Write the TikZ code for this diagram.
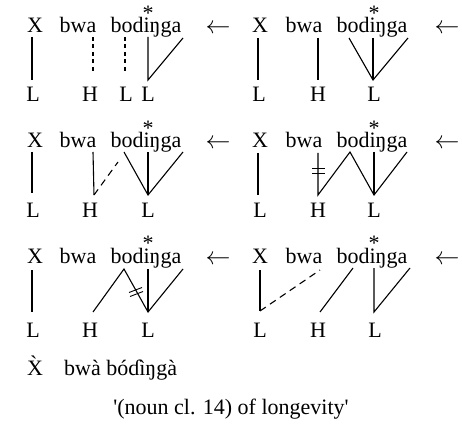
\documentclass[tikz,border=0pt]{standalone}
\usepackage{fontspec}
\setmainfont{Liberation Serif}[Ligatures=TeXOff]
\usetikzlibrary{calc}
\begin{document}
\begin{tikzpicture}[x=1pt,y=-1pt,
  txt/.style={anchor=base, inner sep=0pt, font=\fontsize{22}{26}\selectfont},
  arw/.style={anchor=base, inner sep=0pt, font=\fontsize{25}{28}\selectfont},
  assoc/.style={line width=1.1pt},
  delink/.style={assoc, dash pattern=on 4pt off 3.5pt},
  spread/.style={assoc, dash pattern=on 7pt off 5pt},
  cut/.style={line width=0.9pt}]
\useasboundingbox (0,0) rectangle (462,427);

% ---------- derivation steps: words on top, tones below ----------
% row 1, left
\node[txt] (x1)   at (35,33)  {X};
\node[txt] (bwa1) at (78,33)  {bwa};
\node[txt] (bod1) at (146,33) {bodiŋga};
\node[txt] (as1)  at (148,21) {*};
\node[arw] (ar1)  at (218,34) {$\leftarrow$};
\node[txt] (t1a)  at (33,102)  {L};
\node[txt] (t1b)  at (90,102)  {H};
\node[txt] (t1c)  at (126,102) {L};
\node[txt] (t1d)  at (148,102) {L};
\coordinate (p1x) at (32,37);  \coordinate (q1x) at (32,80);
\coordinate (p1w) at (93,37);  \coordinate (q1w) at (93,73);
\coordinate (p1o) at (125,37); \coordinate (q1o) at (125,73);
\coordinate (p1i) at (148,37); \coordinate (q1i) at (148,80);
\coordinate (p1a) at (183,38);
\draw[assoc]  (p1x) -- (q1x);
\draw[delink] (p1w) -- (q1w);
\draw[delink] (p1o) -- (q1o);
\draw[assoc]  (p1i) -- (q1i) -- (p1a);

% row 1, right
\node[txt] (x2)   at (260,33) {X};
\node[txt] (bwa2) at (304,33) {bwa};
\node[txt] (bod2) at (372,33) {bodiŋga};
\node[txt] (as2)  at (374,21) {*};
\node[arw] (ar2)  at (447,34) {$\leftarrow$};
\node[txt] (t2a)  at (259,102) {L};
\node[txt] (t2b)  at (318,102) {H};
\node[txt] (t2c)  at (374,102) {L};
\coordinate (p2x) at (258,38); \coordinate (q2x) at (258,80);
\coordinate (p2w) at (318,38); \coordinate (q2w) at (318,80);
\coordinate (p2o) at (349,38);
\coordinate (p2i) at (373,38); \coordinate (q2i) at (373,80);
\coordinate (p2a) at (408,38);
\draw[assoc] (p2x) -- (q2x);
\draw[assoc] (p2w) -- (q2w);
\draw[assoc] (p2o) -- (q2i) -- (p2a);
\draw[assoc] (p2i) -- (q2i);

% row 2, left
\node[txt] (x3)   at (35,148)  {X};
\node[txt] (bwa3) at (78,148)  {bwa};
\node[txt] (bod3) at (146,148) {bodiŋga};
\node[txt] (as3)  at (148,136) {*};
\node[arw] (ar3)  at (218,149) {$\leftarrow$};
\node[txt] (t3a)  at (33,218)  {L};
\node[txt] (t3b)  at (90,218)  {H};
\node[txt] (t3c)  at (148,218) {L};
\coordinate (p3x) at (32,152);  \coordinate (q3x) at (32,193);
\coordinate (p3w) at (93,152);  \coordinate (q3w) at (94,195);
\coordinate (d3)  at (118,162);
\coordinate (p3o) at (124,152);
\coordinate (p3i) at (148,152); \coordinate (q3i) at (148,195);
\coordinate (p3a) at (183,152);
\draw[assoc]  (p3x) -- (q3x);
\draw[assoc]  (p3w) -- (q3w);
\draw[spread] (q3w) -- (d3);
\draw[assoc]  (p3o) -- (q3i) -- (p3a);
\draw[assoc]  (p3i) -- (q3i);

% row 2, right
\node[txt] (x4)   at (260,148) {X};
\node[txt] (bwa4) at (304,148) {bwa};
\node[txt] (bod4) at (372,148) {bodiŋga};
\node[txt] (as4)  at (374,136) {*};
\node[arw] (ar4)  at (447,149) {$\leftarrow$};
\node[txt] (t4a)  at (260,218) {L};
\node[txt] (t4b)  at (318,218) {H};
\node[txt] (t4c)  at (374,218) {L};
\coordinate (p4x) at (258,153); \coordinate (q4x) at (258,195);
\coordinate (p4w) at (318,153); \coordinate (q4w) at (318,195);
\coordinate (p4o) at (350,152);
\coordinate (p4i) at (374,152); \coordinate (q4i) at (374,195);
\coordinate (p4a) at (407,152);
\draw[assoc] (p4x) -- (q4x);
\draw[assoc] (p4w) -- (q4w) -- (p4o) -- (q4i) -- (p4a);
\draw[assoc] (p4i) -- (q4i);
% cut association line
\draw[cut] (312,168) -- (325,168);
\draw[cut] (312,173) -- (325,173);

% row 3, left
\node[txt] (x5)   at (35,263)  {X};
\node[txt] (bwa5) at (78,263)  {bwa};
\node[txt] (bod5) at (146,263) {bodiŋga};
\node[txt] (as5)  at (148,251) {*};
\node[arw] (ar5)  at (218,264) {$\leftarrow$};
\node[txt] (t5a)  at (33,337)  {L};
\node[txt] (t5b)  at (90,337)  {H};
\node[txt] (t5c)  at (148,337) {L};
\coordinate (p5x) at (32,270);  \coordinate (q5x) at (32,312);
\coordinate (q5w) at (93,312);
\coordinate (p5o) at (124,269);
\coordinate (p5i) at (148,269); \coordinate (q5i) at (148,312);
\coordinate (p5a) at (183,269);
\draw[assoc] (p5x) -- (q5x);
\draw[assoc] (q5w) -- (p5o) -- (q5i) -- (p5a);
\draw[assoc] (p5i) -- (q5i);
% cut association line
\coordinate (m5) at ($(p5o)!0.5!(q5i)$);
\draw[cut] ([shift={(-7,2)}]m5) -- ([shift={(6,-3)}]m5);
\draw[cut] ([shift={(-6,6)}]m5) -- ([shift={(7,1)}]m5);

% row 3, right
\node[txt] (x6)   at (260,263) {X};
\node[txt] (bwa6) at (304,263) {bwa};
\node[txt] (bod6) at (372,263) {bodiŋga};
\node[txt] (as6)  at (374,251) {*};
\node[arw] (ar6)  at (447,264) {$\leftarrow$};
\node[txt] (t6a)  at (260,337) {L};
\node[txt] (t6b)  at (318,337) {H};
\node[txt] (t6c)  at (375,337) {L};
\coordinate (p6x) at (260,270); \coordinate (q6x) at (260,311);
\coordinate (d6)  at (320,270);
\coordinate (q6w) at (320,312);
\coordinate (p6o) at (353,268);
\coordinate (p6i) at (374,268); \coordinate (q6i) at (374,312);
\coordinate (p6a) at (410,268);
\draw[assoc]  (p6x) -- (q6x);
\draw[spread] (q6x) -- (d6);
\draw[assoc]  (q6w) -- (p6o);
\draw[assoc]  (p6i) -- (q6i) -- (p6a);

% ---------- surface form and gloss ----------
\node[txt] (xf)   at (35,375) {\`{X}};
\node[txt, anchor=base west] (form) at (64,375) {bwà bóɗìŋgà};
\node[txt] (gloss) at (231,414) {'(noun cl. 14) of longevity'};
\end{tikzpicture}
\end{document}
